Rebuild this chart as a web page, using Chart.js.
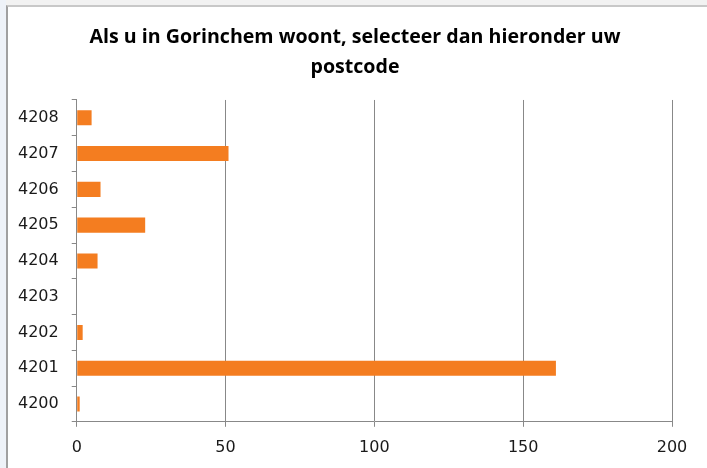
<!DOCTYPE html>
<html>
<head>
<meta charset="utf-8">
<script src="https://cdn.jsdelivr.net/npm/chart.js@4/dist/chart.umd.min.js"></script>
<style>
  html, body { margin: 0; padding: 0; background: #ffffff; }
  #wrap { position: relative; width: 707px; height: 468px; overflow: hidden; background: #ffffff; }
  #strip { position: absolute; left: 0; top: 0; width: 6px; height: 468px; background: #eef2f8; }
  #topstrip { position: absolute; left: 0; top: 0; width: 707px; height: 5px; background: #f2f2f2; }
  #frame { position: absolute; left: 6px; top: 5px; width: 701px; height: 463px; border-left: 2px solid #a0a0a0; border-top: 2px solid #c8c8c8; background: #ffffff; box-sizing: border-box; }
  canvas { position: absolute; left: 0; top: 0; }
</style>
</head>
<body>
<div id="wrap">
  <div id="topstrip"></div>
  <div id="strip"></div>
  <div id="frame"></div>
  <canvas id="c" width="707" height="468"></canvas>
</div>
<script>
const categories = ["4200", "4201", "4202", "4203", "4204", "4205", "4206", "4207", "4208"];
const counts = [1, 161, 2, 0, 7, 23, 8, 51, 5];
const xTicks = [0, 50, 100, 150, 200];
const titleLines = ["Als u in Gorinchem woont, selecteer dan hieronder uw", "postcode"];

// shift the title's box so that it is centred like the original (centre ~355px)
const titleShift = {
  id: "titleShift",
  afterLayout(chart) {
    const tb = chart.titleBlock;
    if (tb) { tb.left = 2 * 355 - tb.right; }
  }
};

new Chart(document.getElementById("c"), {
  type: "bar",
  data: {
    labels: categories,
    datasets: [{
      data: counts,
      backgroundColor: "#f47d20",
      borderWidth: 0,
      categoryPercentage: 1,
      barPercentage: 0.42
    }]
  },
  plugins: [titleShift],
  options: {
    indexAxis: "y",
    responsive: false,
    animation: false,
    layout: { padding: { left: 5, right: 35, top: 8, bottom: 0 } },
    plugins: {
      legend: { display: false },
      tooltip: { enabled: false },
      title: {
        display: true,
        text: titleLines,
        color: "#000000",
        font: { family: "'Open Sans', 'Noto Sans', sans-serif", size: 19.6, weight: "bold", lineHeight: 1.53 },
        padding: { top: 14, bottom: 18 }
      }
    },
    scales: {
      x: {
        type: "linear",
        min: 0,
        max: 200,
        afterBuildTicks: (axis) => { axis.ticks = xTicks.map(v => ({ value: v })); },
        grid: { color: "#888888", lineWidth: 1, drawTicks: true, tickLength: 5, tickColor: "#888888" },
        border: { color: "#888888", width: 1 },
        ticks: { color: "#1a1a1a", padding: 11, font: { family: "'DejaVu Sans', sans-serif", size: 16 }, maxRotation: 0 }
      },
      y: {
        reverse: true,
        grid: { display: true, drawOnChartArea: false, drawTicks: true, tickLength: 5, color: "#888888", offset: true },
        border: { color: "#888888", width: 1 },
        ticks: { color: "#1a1a1a", padding: 13, font: { family: "'DejaVu Sans', sans-serif", size: 16 } }
      }
    }
  }
});
</script>
</body>
</html>
